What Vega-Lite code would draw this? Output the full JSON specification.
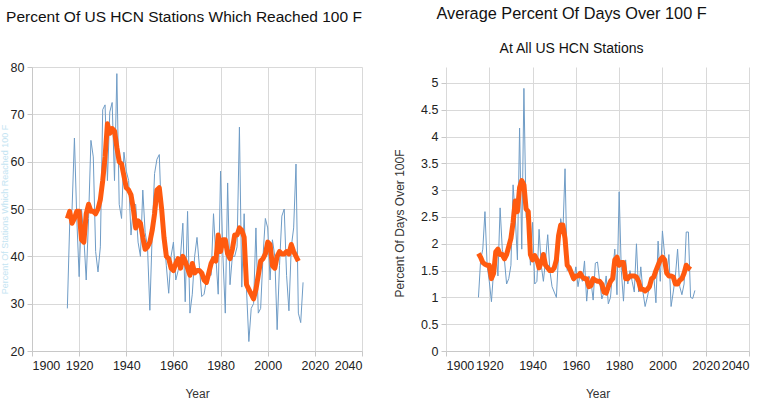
{
  "$schema": "https://vega.github.io/schema/vega-lite/v6.json",
  "padding": {"left": 0, "top": 5, "right": 5, "bottom": 2},
  "background": "white",
  "config": {
    "font": "Liberation Sans",
    "view": {"stroke": null},
    "axis": {
      "gridColor": "#d9d9d9",
      "domainColor": "#c8c8c8",
      "tickColor": "#c8c8c8",
      "labelColor": "#222222",
      "labelFontSize": 12.5,
      "titleFontSize": 12,
      "titleFontWeight": "normal",
      "titleColor": "#333333",
      "tickSize": 5,
      "labelPadding": 3
    },
    "title": {"fontWeight": "normal", "color": "#111111"}
  },
  "spacing": 30,
  "datasets": {
    "stations": [
      {"year":1915,"pct":29,"avg":48},{"year":1916,"pct":47,"avg":49.5},{"year":1917,"pct":50,"avg":47},{"year":1918,"pct":65,"avg":48},{"year":1919,"pct":48,"avg":49.5},
      {"year":1920,"pct":35.7,"avg":49.5},{"year":1921,"pct":50,"avg":43.5},{"year":1922,"pct":44,"avg":43},{"year":1923,"pct":35,"avg":49},{"year":1924,"pct":48,"avg":51},
      {"year":1925,"pct":64.5,"avg":49.5},{"year":1926,"pct":61,"avg":49.5},{"year":1927,"pct":41,"avg":49},{"year":1928,"pct":36.7,"avg":50},{"year":1929,"pct":42,"avg":52},
      {"year":1930,"pct":71,"avg":56},{"year":1931,"pct":72,"avg":61},{"year":1932,"pct":56,"avg":68},{"year":1933,"pct":70.5,"avg":66},{"year":1934,"pct":72.5,"avg":67},
      {"year":1935,"pct":56,"avg":66.5},{"year":1936,"pct":78.6,"avg":63},{"year":1937,"pct":51,"avg":60},{"year":1938,"pct":48,"avg":59.5},{"year":1939,"pct":62,"avg":57},
      {"year":1940,"pct":58,"avg":54.5},{"year":1941,"pct":56,"avg":54},{"year":1942,"pct":44.5,"avg":53},{"year":1943,"pct":50.5,"avg":50},{"year":1944,"pct":51,"avg":46},
      {"year":1945,"pct":43,"avg":47.5},{"year":1946,"pct":40,"avg":47},{"year":1947,"pct":54,"avg":44},{"year":1948,"pct":45,"avg":41.5},{"year":1949,"pct":42,"avg":42},
      {"year":1950,"pct":28.6,"avg":43},{"year":1951,"pct":45,"avg":45.5},{"year":1952,"pct":57.5,"avg":49},{"year":1953,"pct":60.5,"avg":54},{"year":1954,"pct":61.5,"avg":54.5},
      {"year":1955,"pct":47,"avg":50},{"year":1956,"pct":44,"avg":44},{"year":1957,"pct":38,"avg":40},{"year":1958,"pct":32.2,"avg":39.5},{"year":1959,"pct":40,"avg":37.5},
      {"year":1960,"pct":43,"avg":37},{"year":1961,"pct":35,"avg":38.5},{"year":1962,"pct":37,"avg":39.5},{"year":1963,"pct":40,"avg":37.5},{"year":1964,"pct":47,"avg":40},
      {"year":1965,"pct":30.4,"avg":39},{"year":1966,"pct":49.5,"avg":37.5},{"year":1967,"pct":28,"avg":36},{"year":1968,"pct":32,"avg":38.5},{"year":1969,"pct":40,"avg":36.5},
      {"year":1970,"pct":44,"avg":37},{"year":1971,"pct":38,"avg":37},{"year":1972,"pct":31.5,"avg":36.5},{"year":1973,"pct":32,"avg":35},{"year":1974,"pct":35,"avg":34.5},
      {"year":1975,"pct":36,"avg":36.5},{"year":1976,"pct":36,"avg":38.5},{"year":1977,"pct":49,"avg":39.5},{"year":1978,"pct":40,"avg":39},{"year":1979,"pct":32,"avg":44.5},
      {"year":1980,"pct":58,"avg":41},{"year":1981,"pct":40,"avg":43.5},{"year":1982,"pct":28,"avg":43.5},{"year":1983,"pct":55.5,"avg":40.5},{"year":1984,"pct":34,"avg":39.5},
      {"year":1985,"pct":40,"avg":41.5},{"year":1986,"pct":40,"avg":44.5},{"year":1987,"pct":42,"avg":44.5},{"year":1988,"pct":67.3,"avg":46},{"year":1989,"pct":33.5,"avg":45.5},
      {"year":1990,"pct":49,"avg":44},{"year":1991,"pct":33,"avg":34},{"year":1992,"pct":22,"avg":33},{"year":1993,"pct":29,"avg":32},{"year":1994,"pct":30,"avg":31},
      {"year":1995,"pct":46,"avg":33},{"year":1996,"pct":28,"avg":36},{"year":1997,"pct":29,"avg":39},{"year":1998,"pct":40,"avg":39.5},{"year":1999,"pct":48,"avg":40.5},
      {"year":2000,"pct":46,"avg":43},{"year":2001,"pct":35,"avg":42.5},{"year":2002,"pct":43.5,"avg":38},{"year":2003,"pct":40,"avg":37.5},{"year":2004,"pct":24.5,"avg":40},
      {"year":2005,"pct":38,"avg":41},{"year":2006,"pct":48.5,"avg":40.5},{"year":2007,"pct":50,"avg":40.5},{"year":2008,"pct":36,"avg":41},{"year":2009,"pct":28.5,"avg":40.5},
      {"year":2010,"pct":42,"avg":42.5},{"year":2011,"pct":46,"avg":41},{"year":2012,"pct":59.5,"avg":40},{"year":2013,"pct":28,"avg":39},{"year":2014,"pct":26,"avg":null},
      {"year":2015,"pct":34.5,"avg":null}
    ],
    "days": [
      {"year":1915,"pct":1.0,"avg":1.82},{"year":1916,"pct":1.7,"avg":1.75},{"year":1917,"pct":1.9,"avg":1.65},{"year":1918,"pct":2.6,"avg":1.62},{"year":1919,"pct":1.6,"avg":1.6},
      {"year":1920,"pct":1.3,"avg":1.6},{"year":1921,"pct":0.92,"avg":1.35},{"year":1922,"pct":1.5,"avg":1.45},{"year":1923,"pct":1.9,"avg":1.85},{"year":1924,"pct":1.4,"avg":1.9},
      {"year":1925,"pct":2.67,"avg":1.8},{"year":1926,"pct":1.9,"avg":1.8},{"year":1927,"pct":1.7,"avg":1.72},{"year":1928,"pct":1.25,"avg":1.8},{"year":1929,"pct":1.35,"avg":1.95},
      {"year":1930,"pct":1.6,"avg":2.1},{"year":1931,"pct":3.1,"avg":2.4},{"year":1932,"pct":2.5,"avg":2.8},{"year":1933,"pct":1.7,"avg":2.6},{"year":1934,"pct":4.16,"avg":3.05},
      {"year":1935,"pct":1.9,"avg":3.18},{"year":1936,"pct":4.9,"avg":3.1},{"year":1937,"pct":2.5,"avg":2.65},{"year":1938,"pct":2.4,"avg":2.6},{"year":1939,"pct":1.6,"avg":1.8},
      {"year":1940,"pct":2.4,"avg":1.7},{"year":1941,"pct":1.25,"avg":1.78},{"year":1942,"pct":1.3,"avg":1.7},{"year":1943,"pct":2.27,"avg":1.55},{"year":1944,"pct":1.6,"avg":1.65},
      {"year":1945,"pct":1.3,"avg":1.8},{"year":1946,"pct":1.7,"avg":1.6},{"year":1947,"pct":2.17,"avg":1.55},{"year":1948,"pct":1.5,"avg":1.5},{"year":1949,"pct":1.2,"avg":1.5},
      {"year":1950,"pct":1.1,"avg":1.55},{"year":1951,"pct":1.0,"avg":1.7},{"year":1952,"pct":1.8,"avg":2.15},{"year":1953,"pct":2.47,"avg":2.35},{"year":1954,"pct":2.2,"avg":2.35},
      {"year":1955,"pct":3.4,"avg":2.1},{"year":1956,"pct":1.5,"avg":1.6},{"year":1957,"pct":1.6,"avg":1.55},{"year":1958,"pct":1.35,"avg":1.45},{"year":1959,"pct":1.3,"avg":1.35},
      {"year":1960,"pct":1.57,"avg":1.4},{"year":1961,"pct":1.2,"avg":1.4},{"year":1962,"pct":1.45,"avg":1.45},{"year":1963,"pct":1.3,"avg":1.38},{"year":1964,"pct":1.68,"avg":1.35},
      {"year":1965,"pct":0.93,"avg":1.35},{"year":1966,"pct":1.4,"avg":1.2},{"year":1967,"pct":1.3,"avg":1.22},{"year":1968,"pct":0.95,"avg":1.35},{"year":1969,"pct":1.64,"avg":1.32},
      {"year":1970,"pct":1.66,"avg":1.3},{"year":1971,"pct":1.3,"avg":1.3},{"year":1972,"pct":0.97,"avg":1.25},{"year":1973,"pct":1.1,"avg":1.1},{"year":1974,"pct":1.4,"avg":1.08},
      {"year":1975,"pct":0.88,"avg":1.2},{"year":1976,"pct":1.0,"avg":1.3},{"year":1977,"pct":1.5,"avg":1.35},{"year":1978,"pct":1.9,"avg":1.7},{"year":1979,"pct":1.05,"avg":1.75},
      {"year":1980,"pct":2.97,"avg":1.6},{"year":1981,"pct":1.5,"avg":1.65},{"year":1982,"pct":0.93,"avg":1.65},{"year":1983,"pct":1.7,"avg":1.35},{"year":1984,"pct":1.25,"avg":1.35},
      {"year":1985,"pct":1.5,"avg":1.4},{"year":1986,"pct":1.3,"avg":1.4},{"year":1987,"pct":1.1,"avg":1.4},{"year":1988,"pct":2.0,"avg":1.38},{"year":1989,"pct":1.1,"avg":1.3},
      {"year":1990,"pct":1.57,"avg":1.15},{"year":1991,"pct":1.1,"avg":1.15},{"year":1992,"pct":0.83,"avg":1.12},{"year":1993,"pct":1.0,"avg":1.15},{"year":1994,"pct":1.2,"avg":1.2},
      {"year":1995,"pct":1.3,"avg":1.35},{"year":1996,"pct":1.4,"avg":1.38},{"year":1997,"pct":0.9,"avg":1.5},{"year":1998,"pct":2.05,"avg":1.6},{"year":1999,"pct":1.3,"avg":1.7},
      {"year":2000,"pct":2.24,"avg":1.75},{"year":2001,"pct":1.8,"avg":1.7},{"year":2002,"pct":1.4,"avg":1.45},{"year":2003,"pct":1.8,"avg":1.4},{"year":2004,"pct":0.83,"avg":1.4},
      {"year":2005,"pct":1.1,"avg":1.38},{"year":2006,"pct":1.4,"avg":1.25},{"year":2007,"pct":1.9,"avg":1.25},{"year":2008,"pct":1.2,"avg":1.32},{"year":2009,"pct":1.05,"avg":1.35},
      {"year":2010,"pct":1.25,"avg":1.45},{"year":2011,"pct":2.22,"avg":1.6},{"year":2012,"pct":2.22,"avg":1.55},{"year":2013,"pct":1.0,"avg":1.52},{"year":2014,"pct":0.98,"avg":null},
      {"year":2015,"pct":1.13,"avg":null}
    ]
  },
  "hconcat": [
    {
      "data": {"name": "stations"},
      "width": 330,
      "height": 284,
      "title": {"text": "Percent Of US HCN Stations Which Reached 100 F", "anchor": "start", "frame": "bounds", "fontSize": 15.5, "dx": 6, "offset": 36},
      "transform": [{"fold": ["pct", "avg"], "as": ["series", "value"]}],
      "mark": {"type": "line", "strokeJoin": "round"},
      "encoding": {
        "x": {"field": "year", "type": "quantitative", "scale": {"domain": [1900, 2040], "nice": false},
              "axis": {"values": [1900,1920,1940,1960,1980,2000,2020,2040], "format": "d", "title": "Year", "titlePadding": 17, "grid": true}},
        "y": {"field": "value", "type": "quantitative", "scale": {"domain": [20, 80], "nice": false},
              "axis": {"values": [20,30,40,50,60,70,80], "format": "d", "grid": true, "title": "Percent Of Stations Which Reached 100 F", "titleColor": "#c4e4f2", "titleFontSize": 9, "titlePadding": 1}},
        "color": {"field": "series", "type": "nominal", "scale": {"domain": ["pct", "avg"], "range": ["#6f9cc6", "#ff5a0f"]}, "legend": null},
        "strokeWidth": {"field": "series", "type": "nominal", "scale": {"domain": ["pct", "avg"], "range": [1, 5]}, "legend": null}
      }
    },
    {
      "data": {"name": "days"},
      "width": 303,
      "height": 284,
      "title": {"text": "Average Percent Of Days Over 100 F", "subtitle": "At All US HCN Stations", "anchor": "middle", "frame": "bounds", "fontSize": 16.3, "subtitleFontSize": 14, "subtitleColor": "#111111", "subtitlePadding": 20, "offset": 11},
      "transform": [{"fold": ["pct", "avg"], "as": ["series", "value"]}],
      "mark": {"type": "line", "strokeJoin": "round"},
      "encoding": {
        "x": {"field": "year", "type": "quantitative", "scale": {"domain": [1900, 2040], "nice": false},
              "axis": {"values": [1900,1920,1940,1960,1980,2000,2020,2040], "format": "d", "title": "Year", "titlePadding": 17, "grid": true}},
        "y": {"field": "value", "type": "quantitative", "scale": {"domain": [0, 5.2985], "nice": false, "zero": true},
              "axis": {"tickCount": 11, "labelExpr": "format(datum.value, '~g')", "grid": true, "domain": false, "title": "Percent Of Days Over 100F", "titlePadding": 14, "titleY": 156}},
        "color": {"field": "series", "type": "nominal", "scale": {"domain": ["pct", "avg"], "range": ["#6f9cc6", "#ff5a0f"]}, "legend": null},
        "strokeWidth": {"field": "series", "type": "nominal", "scale": {"domain": ["pct", "avg"], "range": [1, 5]}, "legend": null}
      }
    }
  ]
}
